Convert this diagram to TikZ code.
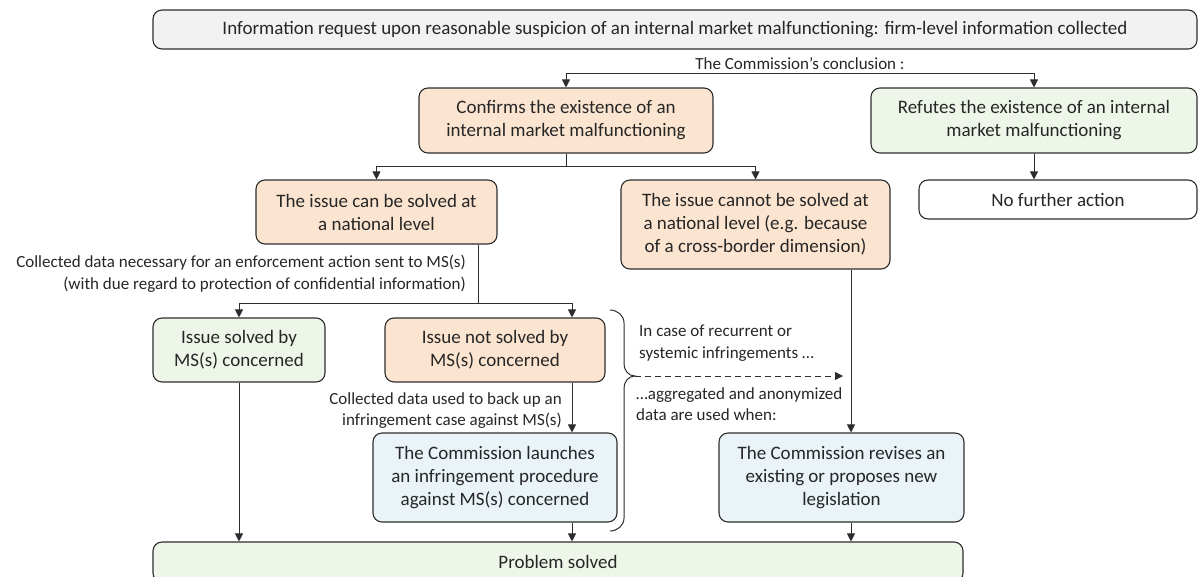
\documentclass[tikz,border=0pt]{standalone}
\usepackage{fontspec}
\setmainfont{Carlito}
\usetikzlibrary{arrows.meta}
\definecolor{peach}{RGB}{252,229,208}
\definecolor{lgreen}{RGB}{238,246,234}
\definecolor{lblue}{RGB}{234,244,248}
\definecolor{lgray}{RGB}{242,242,242}
\definecolor{edge}{RGB}{45,45,45}
\tikzset{
  box/.style={draw=edge, line width=1.1pt, rounded corners=9pt, align=center, inner sep=0pt,
    font=\fontsize{19}{23}\selectfont, text=black!85},
  arr/.style={draw=edge, line width=1pt, -{Triangle[length=8pt,width=8pt]}},
  ln/.style={draw=edge, line width=1pt},
  note/.style={font=\fontsize{17}{21.5}\selectfont, text=black!85, inner sep=0pt},
}
\begin{document}
\begin{tikzpicture}[x=1pt,y=-1pt]
\useasboundingbox (0,0) rectangle (1199,576);
% boxes
\node[box, fill=lgray, minimum width=1044pt, minimum height=39pt] (top) at (675,29.5)
  {Information request upon reasonable suspicion of an internal market malfunctioning: firm-level information collected};
\node[box, fill=peach, minimum width=294pt, minimum height=65pt] (confirms) at (566,120.5)
  {Confirms the existence of an\\internal market malfunctioning};
\node[box, fill=lgreen, minimum width=326pt, minimum height=65pt] (refutes) at (1034,120.5)
  {Refutes the existence of an internal\\market malfunctioning};
\node[box, fill=white, minimum width=278pt, minimum height=39pt] (nofurther) at (1058,199.5)
  {No further action};
\node[box, fill=peach, minimum width=241pt, minimum height=64pt] (can) at (376.5,212)
  {The issue can be solved at\\a national level};
\node[box, fill=peach, minimum width=269pt, minimum height=89pt] (cannot) at (755.5,224.5)
  {The issue cannot be solved at\\a national level (e.g. because\\of a cross-border dimension)};
\node[box, fill=lgreen, minimum width=172pt, minimum height=64pt] (solved) at (239,350)
  {Issue solved by\\MS(s) concerned};
\node[box, fill=peach, minimum width=220pt, minimum height=64pt] (notsolved) at (495,350)
  {Issue not solved by\\MS(s) concerned};
\node[box, fill=lblue, minimum width=244pt, minimum height=89pt] (launches) at (495,477.5)
  {The Commission launches\\an infringement procedure\\against MS(s) concerned};
\node[box, fill=lblue, minimum width=245pt, minimum height=89pt] (revises) at (841.5,477.5)
  {The Commission revises an\\existing or proposes new\\legislation};
\node[box, fill=lgreen, minimum width=810pt, minimum height=40pt] (problem) at (558,562)
  {Problem solved};
% annotations
\node[note] (concl) at (800,64) {The Commission\symbol{39}s conclusion :};
\node[note, anchor=east, align=right] (sent) at (466,273.5)
  {Collected data necessary for an enforcement action sent to MS(s)\\(with due regard to protection of confidential information)};
\node[note, anchor=east, align=right] (backup) at (562,410.5)
  {Collected data used to back up an\\infringement case against MS(s)};
\node[note, anchor=west, align=left] (recurrent) at (639,343)
  {In case of recurrent or\\systemic infringements …};
\node[note, anchor=west, align=left] (aggr) at (636,404)
  {…aggregated and anonymized\\data are used when:};
% junctions
\coordinate (j1) at (566,73);
\coordinate (j2) at (1034,73);
\coordinate (j3) at (566,166);
\coordinate (j4) at (478,303);
\coordinate (kx) at (572,303);
\coordinate (kc) at (851,300);
\coordinate (btip) at (635,376);
\coordinate (dend) at (843,376);
% connectors
\draw[ln] (j1) -- (j2);
\draw[arr] (j1) -- (confirms.north);
\draw[arr] (j2) -- (refutes.north);
\draw[arr] (refutes.south) -- (refutes.south |- nofurther.north);
\draw[ln] (confirms.south) -- (j3);
\draw[arr] (j3) -| (can.north);
\draw[arr] (j3) -| (cannot.north);
\draw[ln] (j4 |- can.south) -- (j4);
\draw[arr] (j4) -| (solved.north);
\draw[arr] (j4) -- (kx) -- (kx |- notsolved.north);
\draw[arr] (kx |- notsolved.south) -- (kx |- launches.north);
\draw[arr] (kx |- launches.south) -- (kx |- problem.north);
\draw[arr] (solved.south) -- (solved.south |- problem.north);
\draw[arr] (kc |- cannot.south) -- (kc |- revises.north);
\draw[arr] (kc |- revises.south) -- (kc |- problem.north);
% brace
\draw[ln] (610,310) to[out=0,in=90] (624,323) -- (624,364) to[out=-90,in=180] (btip)
  to[out=180,in=90] (624,388) -- (624,518) to[out=-90,in=0] (610,531);
\draw[arr, dashed, dash pattern=on 6pt off 4pt] (btip) -- (dend);
\end{tikzpicture}
\end{document}
